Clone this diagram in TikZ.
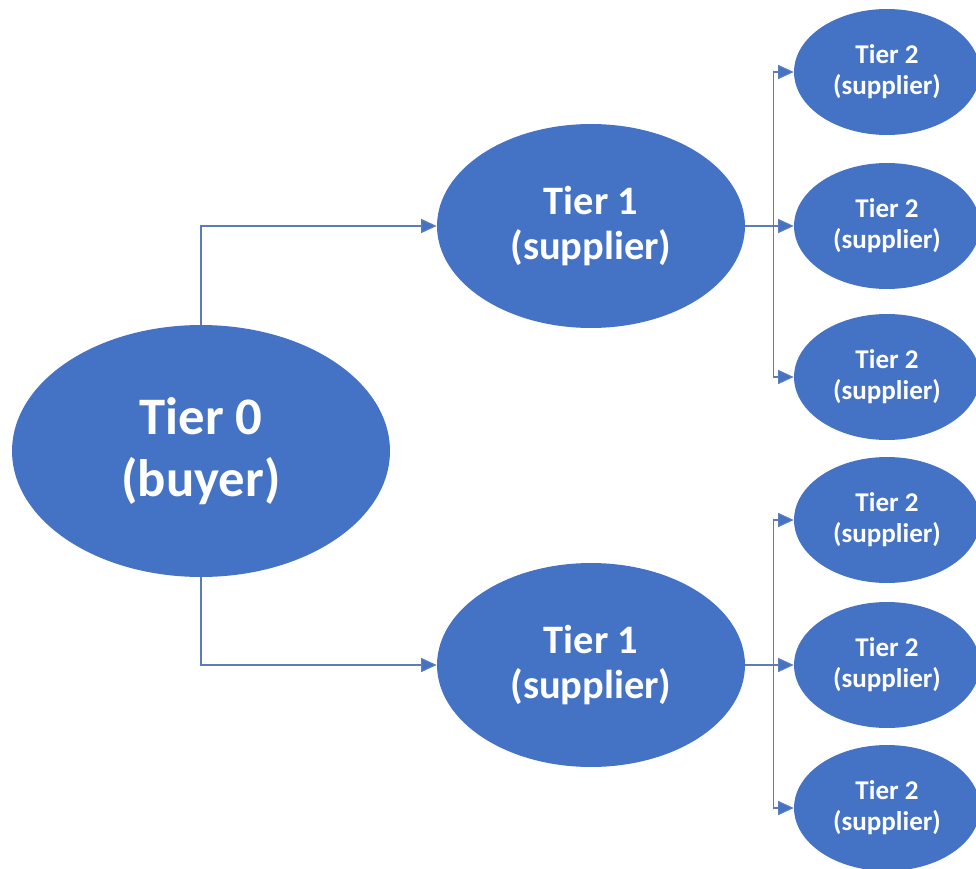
\documentclass[tikz,border=0pt]{standalone}
\usepackage{fontspec}
\setmainfont{Carlito}
\usepackage{xcolor}
\usetikzlibrary{arrows.meta, shapes.geometric, positioning, calc}
\definecolor{tierblue}{HTML}{4472C4}
\definecolor{linkblue}{HTML}{5A7DBA}

\begin{document}
\begin{tikzpicture}[
  x=0.02cm, y=-0.02cm,
  buyer/.style={ellipse, fill=tierblue, text=white, inner sep=0pt,
    minimum width=7.56cm, minimum height=5.04cm, align=center,
    font=\fontsize{30}{35}\selectfont\bfseries},
  supplier/.style={ellipse, fill=tierblue, text=white, inner sep=0pt,
    minimum width=6.16cm, minimum height=4.08cm, align=center,
    font=\fontsize{23}{26}\selectfont\bfseries},
  subsupplier/.style={ellipse, fill=tierblue, text=white, inner sep=0pt,
    minimum width=3.72cm, minimum height=2.52cm, align=center,
    font=\fontsize{15.4}{17.6}\selectfont\bfseries},
  arr/.style={-{Triangle[length=0.31cm, width=0.28cm, fill=tierblue]},
    line width=0.7pt, draw=linkblue}
]
\useasboundingbox (0,0) rectangle (976,868);

\node[buyer] (tier0) at (201,451) {Tier 0\\(buyer)};
\node[supplier] (tier1a) at (591,226) {Tier 1\\(supplier)};
\node[supplier] (tier1b) at (591,665) {Tier 1\\(supplier)};
\foreach \y [count=\i] in {72,226,377,520,665,808}
  \node[subsupplier] (tier2\i) at (887,\y) {Tier 2\\(supplier)};

\draw[arr] (tier0.north) |- (tier1a.west);
\draw[arr] (tier0.south) |- (tier1b.west);
\foreach \i in {1,2,3}
  \draw[arr] (tier1a.east) -- ++(28,0) |- (tier2\i.west);
\foreach \i in {4,5,6}
  \draw[arr] (tier1b.east) -- ++(28,0) |- (tier2\i.west);
\end{tikzpicture}
\end{document}
